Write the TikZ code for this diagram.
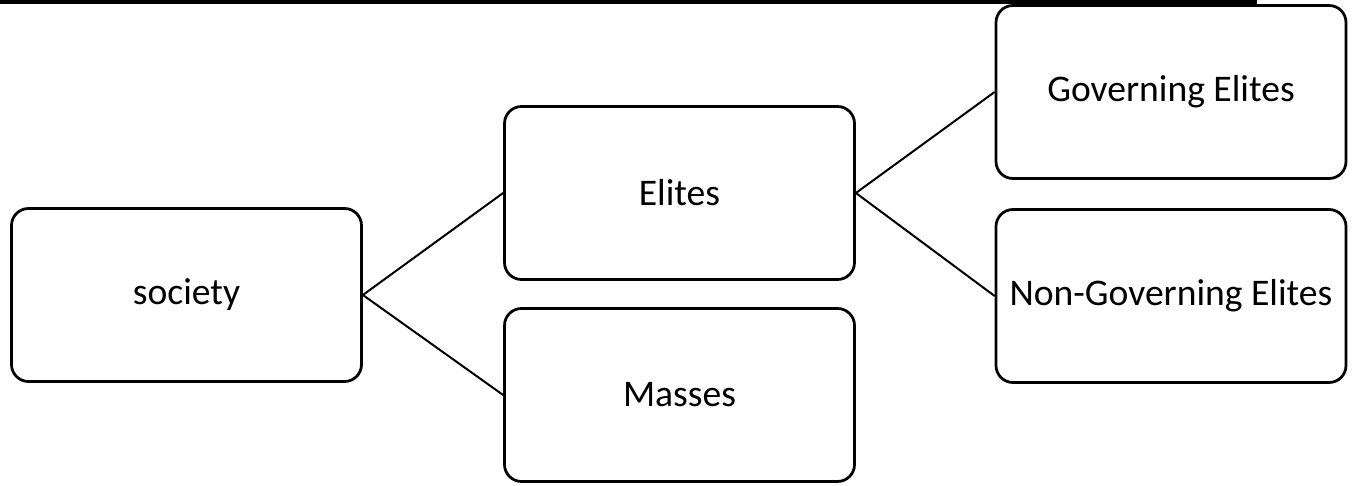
\documentclass[tikz,border=0pt]{standalone}
\usepackage{fontspec}
\setmainfont{Carlito}
\usepackage{tikz}

\begin{document}
\begin{tikzpicture}[box/.style={draw, line width=.055cm, rounded corners=.34cm, minimum width=7cm, minimum height=3.46cm, inner sep=0pt, font=\fontsize{21.4}{25}\selectfont}]
        \useasboundingbox(0, 0)rectangle(27.08, 9.7);
        \fill(0, 9.62)rectangle(25.14, 9.7); % strip left at the top
        \node[box](society)at(3.73, 3.8){society};
        \node[box](elites)at(13.59, 5.84){Elites};
        \node[box](masses)at(13.59, 1.8){Masses};
        \node[box](gov)at(23.42, 7.86){Governing Elites};
        \node[box](nongov)at(23.42, 3.78){Non-Governing Elites};
        \draw[line width=.04cm](elites.west)--(society.east)--(masses.west);
        \draw[line width=.04cm](gov.west)--(elites.east)--(nongov.west);
    \end{tikzpicture}
\end{document}
